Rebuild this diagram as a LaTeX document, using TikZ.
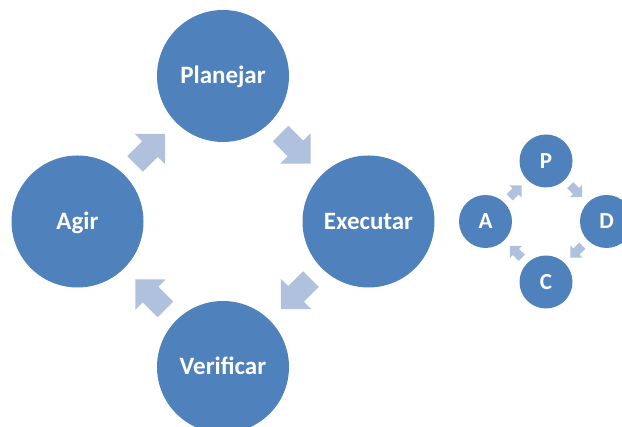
\documentclass[tikz,border=0pt]{standalone}
\usepackage{fontspec}
\setmainfont{Carlito}
\usetikzlibrary{calc}

\definecolor{cyclefill}{HTML}{4F81BD}
\definecolor{arrowfill}{HTML}{AFC1DD}

\tikzset{
  stage/.style={circle, fill=cyclefill, draw=none, minimum size=132pt, inner sep=0pt,
    text=white, font=\bfseries\fontsize{25}{25}\selectfont, text height=15.5pt, text depth=0pt},
  minstage/.style={stage, minimum size=53pt,
    font=\bfseries\fontsize{23}{23}\selectfont, text height=14.4pt},
  blockarrow/.pic={
    \fill[arrowfill] (-21.5,-11) -- (-0.5,-11) -- (-0.5,-21.5) -- (21,0)
      -- (-0.5,21.5) -- (-0.5,11) -- (-21.5,11) -- cycle;
  }
}

\begin{document}
\begin{tikzpicture}[x=1pt, y=1pt]
  \useasboundingbox (0,0) rectangle (622,427);

  % large cycle
  \node[stage] (plan) at (223,351)   {Planejar};
  \node[stage] (exec) at (368.5,205.5) {Executar};
  \node[stage] (verif) at (223,60)   {Verificar};
  \node[stage] (agir) at (77.5,205.5) {Agir};

  \path ($(plan)!0.5!(exec)$)  pic[rotate=-45]  {blockarrow};
  \path ($(exec)!0.5!(verif)$) pic[rotate=-135] {blockarrow};
  \path ($(verif)!0.5!(agir)$) pic[rotate=135]  {blockarrow};
  \path ($(agir)!0.5!(plan)$)  pic[rotate=45]   {blockarrow};

  % small cycle
  \node[minstage] (p) at (546,266)     {P};
  \node[minstage] (d) at (606.5,205.5) {D};
  \node[minstage] (c) at (546,145)     {C};
  \node[minstage] (a) at (485.5,205.5) {A};

  \path ($(p)!0.5!(d)$) pic[rotate=-45, scale=0.4]  {blockarrow};
  \path ($(d)!0.5!(c)$) pic[rotate=-135, scale=0.4] {blockarrow};
  \path ($(c)!0.5!(a)$) pic[rotate=135, scale=0.4]  {blockarrow};
  \path ($(a)!0.5!(p)$) pic[rotate=45, scale=0.4]   {blockarrow};
\end{tikzpicture}
\end{document}
